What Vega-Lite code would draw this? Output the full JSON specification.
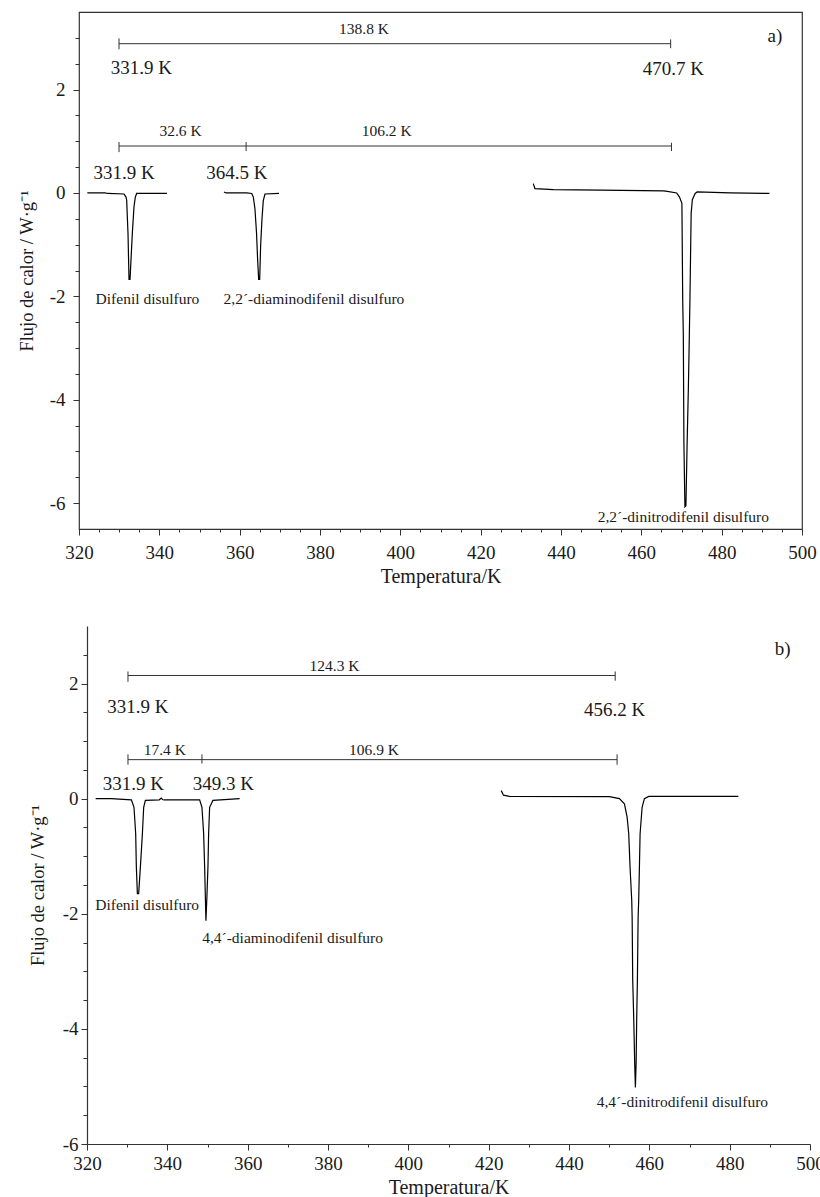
{
  "$schema": "https://vega.github.io/schema/vega-lite/v6.json",
  "background": "white",
  "padding": {"left": 16, "top": 11, "right": 0, "bottom": 0},
  "spacing": 39,
  "config": {
    "view": {"stroke": null},
    "text": {"font": "Liberation Serif"},
    "axis": {"labelFont": "Liberation Serif", "titleFont": "Liberation Serif", "titleFontWeight": "normal", "labelColor": "#1a1a1a", "titleColor": "#1a1a1a", "tickColor": "#333333", "grid": false, "domain": false, "labelFlush": false, "labelOverlap": false, "labelFontSize": 19, "titleFontSize": 20}
  },
  "datasets": {
    "curves": [
      {"panel": "a", "series": "a1", "T": 322.07, "q": 0},
      {"panel": "a", "series": "a1", "T": 326.5, "q": 0},
      {"panel": "a", "series": "a1", "T": 327.2, "q": -0.01},
      {"panel": "a", "series": "a1", "T": 331.2, "q": -0.02},
      {"panel": "a", "series": "a1", "T": 331.7, "q": -0.08},
      {"panel": "a", "series": "a1", "T": 331.87, "q": -0.14},
      {"panel": "a", "series": "a1", "T": 332.03, "q": -0.46},
      {"panel": "a", "series": "a1", "T": 332.2, "q": -0.78},
      {"panel": "a", "series": "a1", "T": 332.45, "q": -1.67},
      {"panel": "a", "series": "a1", "T": 332.7, "q": -1.67},
      {"panel": "a", "series": "a1", "T": 333.28, "q": -0.78},
      {"panel": "a", "series": "a1", "T": 333.69, "q": -0.27},
      {"panel": "a", "series": "a1", "T": 334.02, "q": -0.08},
      {"panel": "a", "series": "a1", "T": 334.36, "q": -0.01},
      {"panel": "a", "series": "a1", "T": 341.9, "q": -0.01},
      {"panel": "a", "series": "a2", "T": 356.1, "q": 0.02},
      {"panel": "a", "series": "a2", "T": 356.6, "q": 0.0},
      {"panel": "a", "series": "a2", "T": 361.75, "q": 0.0},
      {"panel": "a", "series": "a2", "T": 363.0, "q": -0.01},
      {"panel": "a", "series": "a2", "T": 363.4, "q": -0.08},
      {"panel": "a", "series": "a2", "T": 363.8, "q": -0.3},
      {"panel": "a", "series": "a2", "T": 364.2, "q": -0.78},
      {"panel": "a", "series": "a2", "T": 364.48, "q": -1.3},
      {"panel": "a", "series": "a2", "T": 364.73, "q": -1.67},
      {"panel": "a", "series": "a2", "T": 364.98, "q": -1.67},
      {"panel": "a", "series": "a2", "T": 365.23, "q": -1.0},
      {"panel": "a", "series": "a2", "T": 365.56, "q": -0.5},
      {"panel": "a", "series": "a2", "T": 365.88, "q": -0.15},
      {"panel": "a", "series": "a2", "T": 366.3, "q": -0.02},
      {"panel": "a", "series": "a2", "T": 369.8, "q": -0.01},
      {"panel": "a", "series": "a3", "T": 433.1, "q": 0.18},
      {"panel": "a", "series": "a3", "T": 433.5, "q": 0.085},
      {"panel": "a", "series": "a3", "T": 438.1, "q": 0.066},
      {"panel": "a", "series": "a3", "T": 450.0, "q": 0.055},
      {"panel": "a", "series": "a3", "T": 465.5, "q": 0.04},
      {"panel": "a", "series": "a3", "T": 466.5, "q": 0.03},
      {"panel": "a", "series": "a3", "T": 468.8, "q": 0.0},
      {"panel": "a", "series": "a3", "T": 469.5, "q": -0.08},
      {"panel": "a", "series": "a3", "T": 470.1, "q": -0.2},
      {"panel": "a", "series": "a3", "T": 470.3, "q": -2.07},
      {"panel": "a", "series": "a3", "T": 470.45, "q": -2.72},
      {"panel": "a", "series": "a3", "T": 470.6, "q": -4.84},
      {"panel": "a", "series": "a3", "T": 470.85, "q": -6.07},
      {"panel": "a", "series": "a3", "T": 471.1, "q": -6.05},
      {"panel": "a", "series": "a3", "T": 471.4, "q": -4.84},
      {"panel": "a", "series": "a3", "T": 471.7, "q": -3.81},
      {"panel": "a", "series": "a3", "T": 471.9, "q": -2.98},
      {"panel": "a", "series": "a3", "T": 472.1, "q": -2.07},
      {"panel": "a", "series": "a3", "T": 472.4, "q": -0.4},
      {"panel": "a", "series": "a3", "T": 472.7, "q": -0.13},
      {"panel": "a", "series": "a3", "T": 473.4, "q": -0.01},
      {"panel": "a", "series": "a3", "T": 473.9, "q": 0.02},
      {"panel": "a", "series": "a3", "T": 482.1, "q": 0.0},
      {"panel": "a", "series": "a3", "T": 491.9, "q": -0.01},
      {"panel": "b", "series": "b1", "T": 322.16, "q": 0},
      {"panel": "b", "series": "b1", "T": 326.0, "q": 0},
      {"panel": "b", "series": "b1", "T": 331.05, "q": -0.02},
      {"panel": "b", "series": "b1", "T": 331.7, "q": -0.15},
      {"panel": "b", "series": "b1", "T": 332.12, "q": -0.61},
      {"panel": "b", "series": "b1", "T": 332.29, "q": -1.19},
      {"panel": "b", "series": "b1", "T": 332.54, "q": -1.65},
      {"panel": "b", "series": "b1", "T": 332.86, "q": -1.65},
      {"panel": "b", "series": "b1", "T": 333.29, "q": -1.19},
      {"panel": "b", "series": "b1", "T": 333.79, "q": -0.61},
      {"panel": "b", "series": "b1", "T": 334.11, "q": -0.15},
      {"panel": "b", "series": "b1", "T": 334.53, "q": -0.03},
      {"panel": "b", "series": "b1", "T": 338.0, "q": -0.02},
      {"panel": "b", "series": "b1", "T": 338.5, "q": 0.01},
      {"panel": "b", "series": "b1", "T": 338.9, "q": -0.02},
      {"panel": "b", "series": "b2", "T": 339.0, "q": -0.02},
      {"panel": "b", "series": "b2", "T": 348.04, "q": -0.02},
      {"panel": "b", "series": "b2", "T": 348.62, "q": -0.15},
      {"panel": "b", "series": "b2", "T": 349.04, "q": -0.61},
      {"panel": "b", "series": "b2", "T": 349.29, "q": -1.19},
      {"panel": "b", "series": "b2", "T": 349.46, "q": -1.69},
      {"panel": "b", "series": "b2", "T": 349.61, "q": -2.12},
      {"panel": "b", "series": "b2", "T": 349.86, "q": -1.69},
      {"panel": "b", "series": "b2", "T": 350.11, "q": -1.19},
      {"panel": "b", "series": "b2", "T": 350.28, "q": -0.61},
      {"panel": "b", "series": "b2", "T": 350.53, "q": -0.15},
      {"panel": "b", "series": "b2", "T": 351.35, "q": -0.03},
      {"panel": "b", "series": "b2", "T": 358.0, "q": 0.0},
      {"panel": "b", "series": "b3", "T": 423.12, "q": 0.14},
      {"panel": "b", "series": "b3", "T": 423.69, "q": 0.06},
      {"panel": "b", "series": "b3", "T": 425.18, "q": 0.04},
      {"panel": "b", "series": "b3", "T": 450.07, "q": 0.035},
      {"panel": "b", "series": "b3", "T": 452.55, "q": 0.0},
      {"panel": "b", "series": "b3", "T": 453.8, "q": -0.09},
      {"panel": "b", "series": "b3", "T": 454.47, "q": -0.32},
      {"panel": "b", "series": "b3", "T": 454.87, "q": -0.61},
      {"panel": "b", "series": "b3", "T": 455.2, "q": -1.19},
      {"panel": "b", "series": "b3", "T": 455.62, "q": -1.77},
      {"panel": "b", "series": "b3", "T": 455.72, "q": -2.06},
      {"panel": "b", "series": "b3", "T": 455.86, "q": -3.14},
      {"panel": "b", "series": "b3", "T": 456.11, "q": -3.8},
      {"panel": "b", "series": "b3", "T": 456.36, "q": -4.61},
      {"panel": "b", "series": "b3", "T": 456.53, "q": -5.02},
      {"panel": "b", "series": "b3", "T": 456.71, "q": -4.6},
      {"panel": "b", "series": "b3", "T": 456.86, "q": -3.8},
      {"panel": "b", "series": "b3", "T": 457.03, "q": -3.14},
      {"panel": "b", "series": "b3", "T": 457.21, "q": -2.06},
      {"panel": "b", "series": "b3", "T": 457.35, "q": -1.77},
      {"panel": "b", "series": "b3", "T": 457.53, "q": -1.19},
      {"panel": "b", "series": "b3", "T": 457.7, "q": -0.61},
      {"panel": "b", "series": "b3", "T": 458.2, "q": -0.15},
      {"panel": "b", "series": "b3", "T": 458.77, "q": 0.0},
      {"panel": "b", "series": "b3", "T": 459.84, "q": 0.04},
      {"panel": "b", "series": "b3", "T": 482.16, "q": 0.04}
    ],
    "brackets": [
      {"panel": "a", "T": 329.96, "T2": 467.3, "q": 2.887},
      {"panel": "a", "T": 329.96, "T2": 467.5, "q": 0.908},
      {"panel": "b", "T": 330.2, "T2": 451.5, "q": 2.14},
      {"panel": "b", "T": 330.2, "T2": 451.97, "q": 0.678}
    ],
    "ends": [
      {"panel": "a", "T": 329.96, "q": 2.78, "q2": 2.99},
      {"panel": "a", "T": 467.3, "q": 2.8, "q2": 2.97},
      {"panel": "a", "T": 329.96, "q": 0.79, "q2": 0.985},
      {"panel": "a", "T": 361.6, "q": 0.81, "q2": 0.985},
      {"panel": "a", "T": 467.5, "q": 0.81, "q2": 0.97},
      {"panel": "b", "T": 330.2, "q": 2.03, "q2": 2.21},
      {"panel": "b", "T": 451.5, "q": 2.05, "q2": 2.21},
      {"panel": "b", "T": 330.2, "q": 0.59, "q2": 0.77},
      {"panel": "b", "T": 348.62, "q": 0.61, "q2": 0.77},
      {"panel": "b", "T": 451.97, "q": 0.59, "q2": 0.77}
    ],
    "labels": [
      {"panel": "a", "role": "temp", "T": 335.51, "q": 2.294, "text": "331.9 K"},
      {"panel": "a", "role": "temp", "T": 467.96, "q": 2.275, "text": "470.7 K"},
      {"panel": "a", "role": "temp", "T": 331.2, "q": 0.265, "text": "331.9 K"},
      {"panel": "a", "role": "temp", "T": 359.33, "q": 0.265, "text": "364.5 K"},
      {"panel": "a", "role": "panel", "T": 493.27, "q": 2.92, "text": "a)"},
      {"panel": "a", "role": "delta", "T": 390.95, "q": 3.08, "text": "138.8 K"},
      {"panel": "a", "role": "delta", "T": 345.27, "q": 1.096, "text": "32.6 K"},
      {"panel": "a", "role": "delta", "T": 396.6, "q": 1.096, "text": "106.2 K"},
      {"panel": "a", "role": "compound", "T": 337.05, "q": -2.14, "text": "Difenil disulfuro"},
      {"panel": "a", "role": "compound", "T": 378.5, "q": -2.14, "text": "2,2´-diaminodifenil disulfuro"},
      {"panel": "a", "role": "compound", "T": 470.45, "q": -6.36, "text": "2,2´-dinitrodifenil disulfuro"},
      {"panel": "b", "role": "temp", "T": 332.69, "q": 1.49, "text": "331.9 K"},
      {"panel": "b", "role": "temp", "T": 451.38, "q": 1.44, "text": "456.2 K"},
      {"panel": "b", "role": "temp", "T": 331.55, "q": 0.157, "text": "331.9 K"},
      {"panel": "b", "role": "temp", "T": 353.94, "q": 0.157, "text": "349.3 K"},
      {"panel": "b", "role": "panel", "T": 493.19, "q": 2.49, "text": "b)"},
      {"panel": "b", "role": "delta", "T": 381.64, "q": 2.21, "text": "124.3 K"},
      {"panel": "b", "role": "delta", "T": 339.38, "q": 0.765, "text": "17.4 K"},
      {"panel": "b", "role": "delta", "T": 391.46, "q": 0.765, "text": "106.9 K"},
      {"panel": "b", "role": "compound", "T": 334.98, "q": -1.94, "text": "Difenil disulfuro"},
      {"panel": "b", "role": "compound", "T": 371.18, "q": -2.5, "text": "4,4´-diaminodifenil disulfuro"},
      {"panel": "b", "role": "compound", "T": 468.23, "q": -5.35, "text": "4,4´-dinitrodifenil disulfuro"}
    ]
  },
  "vconcat": [
    {
      "width": 723,
      "height": 517,
      "view": {"stroke": "#333333", "strokeWidth": 1.2},
      "encoding": {
        "x": {"field": "T", "type": "quantitative", "scale": {"domain": [320, 500], "nice": false, "zero": false},
          "axis": {"title": "Temperatura/K", "values": [320,325,330,335,340,345,350,355,360,365,370,375,380,385,390,395,400,405,410,415,420,425,430,435,440,445,450,455,460,465,470,475,480,485,490,495,500],
            "labelExpr": "datum.value % 20 === 0 ? datum.label : ''",
            "tickSize": {"condition": {"test": "datum.value % 20 === 0", "value": 6}, "value": 3},
            "labelPadding": 8, "titlePadding": 4}},
        "y": {"field": "q", "type": "quantitative", "scale": {"domain": [-6.5, 3.5], "nice": false, "zero": false},
          "axis": {"title": "Flujo de calor / W·g⁻¹", "titleFontSize": 18.5, "values": [-6,-5.5,-5,-4.5,-4,-3.5,-3,-2.5,-2,-1.5,-1,-0.5,0,0.5,1,1.5,2,2.5,3],
            "labelExpr": "datum.value % 2 === 0 ? '' + datum.value : ''",
            "tickSize": {"condition": {"test": "datum.value % 2 === 0", "value": 6}, "value": 4},
            "labelPadding": 8, "titlePadding": 13}}
      },
      "layer": [
        {"data": {"name": "curves"}, "transform": [{"filter": "datum.panel === 'a'"}],
          "mark": {"type": "line", "color": "#000000", "strokeWidth": 1.2},
          "encoding": {"detail": {"field": "series"}}},
        {"data": {"name": "brackets"}, "transform": [{"filter": "datum.panel === 'a'"}],
          "mark": {"type": "rule", "color": "#333333", "strokeWidth": 1},
          "encoding": {"x2": {"field": "T2"}}},
        {"data": {"name": "ends"}, "transform": [{"filter": "datum.panel === 'a'"}],
          "mark": {"type": "rule", "color": "#333333", "strokeWidth": 1},
          "encoding": {"y2": {"field": "q2"}}},
        {"data": {"name": "labels"}, "transform": [{"filter": "datum.panel === 'a' && (datum.role === 'temp' || datum.role === 'panel')"}],
          "mark": {"type": "text", "fontSize": 19, "align": "center", "baseline": "alphabetic", "color": "#1a1a1a", "font": "Liberation Serif"},
          "encoding": {"text": {"field": "text"}}},
        {"data": {"name": "labels"}, "transform": [{"filter": "datum.panel === 'a' && (datum.role === 'delta' || datum.role === 'compound')"}],
          "mark": {"type": "text", "fontSize": 15.5, "align": "center", "baseline": "alphabetic", "color": "#1a1a1a", "font": "Liberation Serif"},
          "encoding": {"text": {"field": "text"}}}
      ]
    },
    {
      "width": 731,
      "height": 518,
      "encoding": {
        "x": {"field": "T", "type": "quantitative", "scale": {"domain": [320, 500], "range": [8, 731], "nice": false, "zero": false},
          "axis": {"title": "Temperatura/K", "domain": true, "domainColor": "#333333", "domainWidth": 1.2, "values": [320,330,340,350,360,370,380,390,400,410,420,430,440,450,460,470,480,490,500],
            "labelExpr": "datum.value % 20 === 0 ? datum.label : ''",
            "tickSize": {"condition": {"test": "datum.value % 20 === 0", "value": 6}, "value": 3},
            "labelPadding": 4, "titlePadding": 4}},
        "y": {"field": "q", "type": "quantitative", "scale": {"domain": [-6, 3], "nice": false, "zero": false},
          "axis": {"title": "Flujo de calor / W·g⁻¹", "titleFontSize": 18.5, "offset": -8, "domain": true, "domainColor": "#333333", "domainWidth": 1.2, "values": [-6,-5.5,-5,-4.5,-4,-3.5,-3,-2.5,-2,-1.5,-1,-0.5,0,0.5,1,1.5,2,2.5],
            "labelExpr": "datum.value % 2 === 0 ? '' + datum.value : ''",
            "tickSize": {"condition": {"test": "datum.value % 2 === 0", "value": 6}, "value": 4},
            "labelPadding": 3, "titlePadding": 15}}
      },
      "layer": [
        {"data": {"values": [{"edge": "frame"}]}, "mark": {"type": "rect", "fill": "transparent", "stroke": "#333333", "strokeWidth": 1.2},
          "encoding": {"x": {"datum": 320, "type": "quantitative"}, "x2": {"datum": 500}, "y": {"datum": -6, "type": "quantitative"}, "y2": {"datum": 3}}},
        {"data": {"name": "curves"}, "transform": [{"filter": "datum.panel === 'b'"}],
          "mark": {"type": "line", "color": "#000000", "strokeWidth": 1.2},
          "encoding": {"detail": {"field": "series"}}},
        {"data": {"name": "brackets"}, "transform": [{"filter": "datum.panel === 'b'"}],
          "mark": {"type": "rule", "color": "#333333", "strokeWidth": 1},
          "encoding": {"x2": {"field": "T2"}}},
        {"data": {"name": "ends"}, "transform": [{"filter": "datum.panel === 'b'"}],
          "mark": {"type": "rule", "color": "#333333", "strokeWidth": 1},
          "encoding": {"y2": {"field": "q2"}}},
        {"data": {"name": "labels"}, "transform": [{"filter": "datum.panel === 'b' && (datum.role === 'temp' || datum.role === 'panel')"}],
          "mark": {"type": "text", "fontSize": 19, "align": "center", "baseline": "alphabetic", "color": "#1a1a1a", "font": "Liberation Serif"},
          "encoding": {"text": {"field": "text"}}},
        {"data": {"name": "labels"}, "transform": [{"filter": "datum.panel === 'b' && (datum.role === 'delta' || datum.role === 'compound')"}],
          "mark": {"type": "text", "fontSize": 15.5, "align": "center", "baseline": "alphabetic", "color": "#1a1a1a", "font": "Liberation Serif"},
          "encoding": {"text": {"field": "text"}}}
      ]
    }
  ]
}
